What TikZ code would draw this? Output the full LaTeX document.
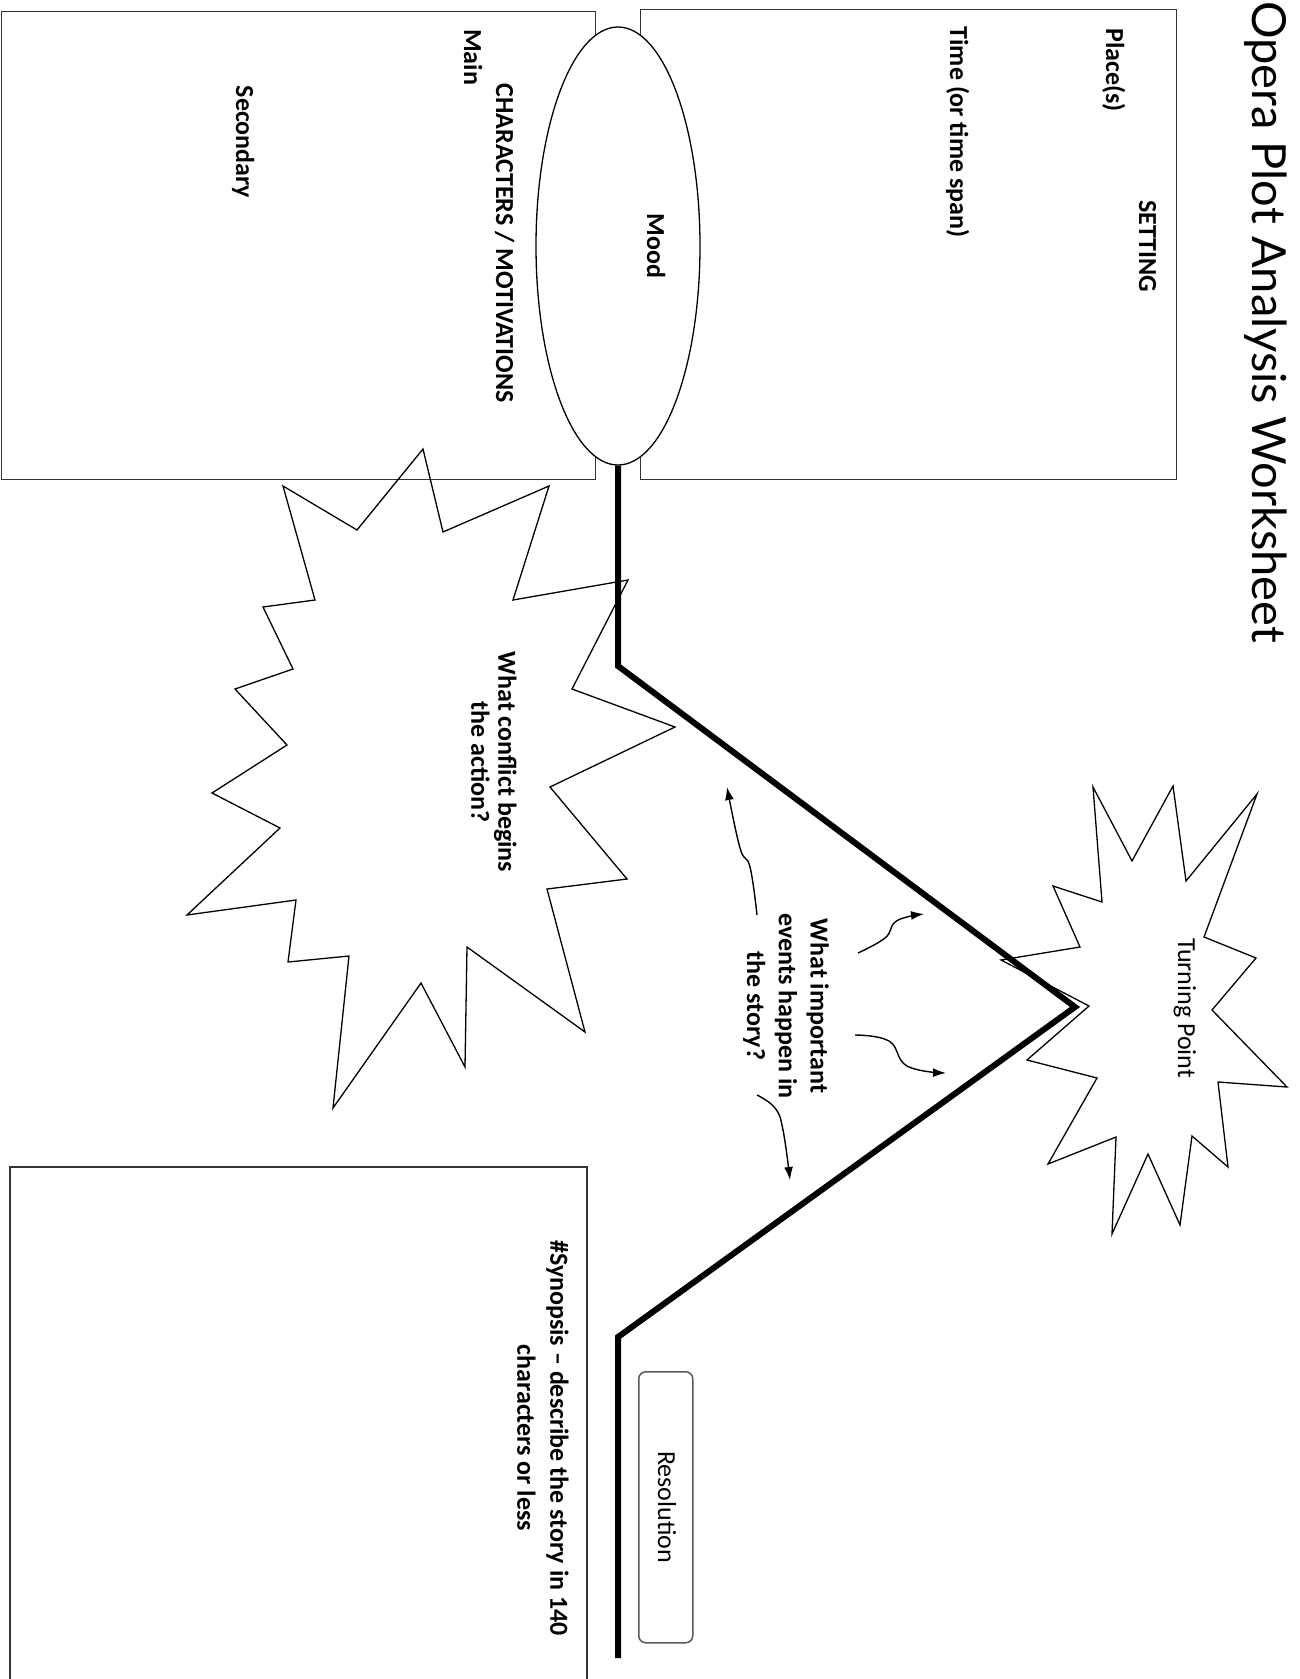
\documentclass[tikz,border=0pt]{standalone}
\usepackage{fontspec}
\setmainfont{Carlito}
\newfontfamily\titlefont{Lato}
\usetikzlibrary{shapes.geometric,arrows.meta}
\begin{document}
\begin{tikzpicture}[x=1pt,y=-1pt,
  box/.style={draw=black!80, line width=1.3pt, inner sep=0pt},
  lbl/.style={rotate=-90, anchor=base, inner sep=0pt, font=\fontsize{26}{31.7}\selectfont\bfseries},
  lblr/.style={rotate=-90, anchor=base, inner sep=0pt, font=\fontsize{26}{31.7}\selectfont},
  multi/.style={rotate=-90, inner sep=0pt, align=center},
  star/.style={draw=black, line width=1.3pt, line join=miter},
  plotline/.style={line width=6pt, line join=miter},
  evarrow/.style={line width=1.4pt, -{Latex[length=13pt,width=9pt]}}]
\useasboundingbox (0,0) rectangle (1299,1679);
\fill[white] (0,0) rectangle (1299,1679);

% title
\node[rotate=-90, anchor=base, inner sep=0pt, font=\titlefont\fontsize{47}{50}\selectfont] (title) at (1252,322) {Opera Plot Analysis Worksheet};

% boxes
\node[box, anchor=north west, minimum width=536pt, minimum height=470pt] (setting) at (640,9) {};
\node[box, anchor=north west, minimum width=594pt, minimum height=468pt] (chars) at (1,11) {};
\draw[box] (10,1679) -- (10,1167) -- (587,1167) -- (587,1679);
\node[draw=black!65, line width=1.5pt, rounded corners=7pt, anchor=north west, minimum width=54pt, minimum height=271pt, inner sep=0pt] (resbox) at (638,1371) {};

% mood ellipse
\node[draw=black, line width=1.3pt, ellipse, minimum width=164pt, minimum height=438pt, inner sep=0pt, fill=white] (mood) at (618,246) {};

% conflict star
\draw[star] (423,449) -- (443,532) -- (549,486) -- (513,600) -- (628,580) -- (572,689)
  -- (675,727) -- (550,787) -- (627,879) -- (547,889) -- (585,1032) -- (467,947)
  -- (465,1067) -- (421,983) -- (333,1108) -- (349,956) -- (288,962) -- (296,900)
  -- (187,915) -- (280,828) -- (212,793) -- (287,745) -- (235,689) -- (293,669)
  -- (263,607) -- (315,600) -- (283,486) -- (357,530) -- cycle;

% turning point star
\draw[star] (1093,787) -- (1132,861) -- (1173,786) -- (1186,881) -- (1257,794) -- (1204,937)
  -- (1256,958) -- (1212,1010) -- (1287,1087) -- (1218,1082) -- (1228,1167) -- (1192,1136)
  -- (1180,1225) -- (1148,1154) -- (1112,1234) -- (1116,1137) -- (1048,1164) -- (1097,1078)
  -- (1027,1060) -- (1089,1006) -- (1001,960) -- (1080,947) -- (1053,886) -- (1102,902) -- cycle;

% plot line
\coordinate (rise) at (618,666);
\coordinate (peak) at (1075,1007);
\coordinate (fall) at (618,1337);
\coordinate (lineend) at (618,1658);
\draw[plotline] (mood.south) -- (rise) -- (peak) -- (fall) -- (lineend);

% labels
\node[lbl] (place) at (1106,70) {Place(s)};
\node[lbl] (settinglbl) at (1139,246) {SETTING};
\node[lbl] (time) at (950,132) {Time (or time span)};
\node[lbl] (moodlbl) at (647,246) {Mood};
\node[lbl] (charlbl) at (496,243) {CHARACTERS / MOTIVATIONS};
\node[lbl] (mainlbl) at (464,57) {Main};
\node[lbl] (secondary) at (236,142) {Secondary};
\node[multi, font=\fontsize{26}{27}\selectfont\bfseries] (conflict) at (494,762) {What conflict begins\\the action?};
\node[multi, font=\fontsize{26}{31.7}\selectfont\bfseries] (events) at (786,1006) {What important\\events happen in\\the story?};
\node[lblr] (turning) at (1178,1008) {Turning Point};
\node[lblr] (reslbl) at (658,1507) {Resolution};
\node[multi, font=\fontsize{26}{33}\selectfont\bfseries] (synopsis) at (543,1438) {\#Synopsis -- describe the story in 140\\characters or less};

% arrows
\draw[evarrow] plot[smooth, tension=0.7] coordinates {(757,915) (750,867) (740,848) (727,787)};
\draw[evarrow] plot[smooth, tension=0.7] coordinates {(858,953) (885,938) (894,923) (907,917) (924,914)};
\draw[evarrow] plot[smooth, tension=0.7] coordinates {(855,1035) (889,1041) (907,1066) (946,1073)};
\draw[evarrow] plot[smooth, tension=0.7] coordinates {(757,1095) (775,1108) (783,1130) (790,1180)};
\end{tikzpicture}
\end{document}
